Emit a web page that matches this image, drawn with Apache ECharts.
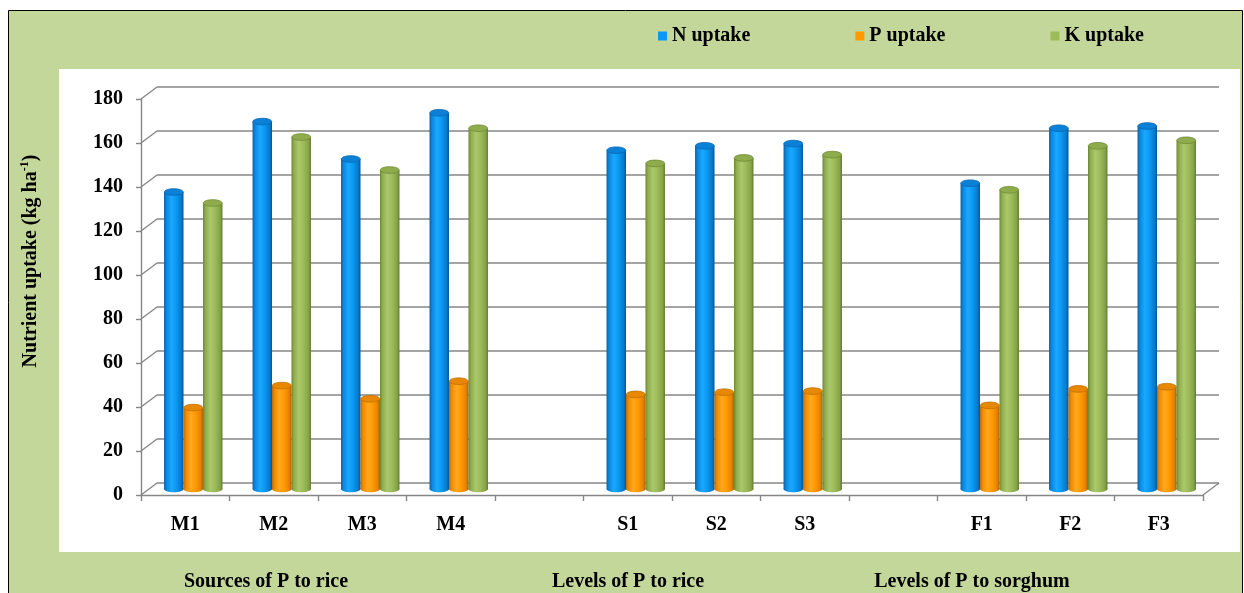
<!DOCTYPE html>
<html>
<head>
<meta charset="utf-8">
<title>Nutrient uptake</title>
<script src="https://cdn.jsdelivr.net/npm/echarts@6/dist/echarts.min.js"></script>
<style>
  html, body { margin: 0; padding: 0; background: #fff; }
  #chart { width: 1244px; height: 593px; }
</style>
</head>
<body>
<div id="chart"></div>
<script>
// Treatments (blank slots separate the three groups)
const categories = ['M1', 'M2', 'M3', 'M4', '', 'S1', 'S2', 'S3', '', 'F1', 'F2', 'F3'];
// Nutrient uptake, kg ha-1
const nUptake = [135, 167, 150, 171, null, 154, 156, 157, null, 139, 164, 165];
const pUptake = [37, 47, 41, 49, null, 43, 44, 44.5, null, 38, 45.5, 46.5];
const kUptake = [130, 160, 145, 164, null, 148, 150.5, 152, null, 136, 156, 158.5];
const yTicks = [0, 20, 40, 60, 80, 100, 120, 140, 160, 180];
const seriesNames = ['N uptake', 'P uptake', 'K uptake'];
const groupLabels = ['Sources of P to rice', 'Levels of P to rice', 'Levels of P to sorghum'];

const FONT = '"Liberation Serif", "Times New Roman", serif';
const FS = 20;
const GRID_COLOR = '#868686';
// pseudo-3D depth offsets (px)
const WALL_DX = 16, WALL_DY = -12;
const BAR_DX = 8, BAR_DY = -6;

const palettes = [
  { base: '#0a9af5', edge: ['#0b5fa8', '#0a86dd', '#1aa9ff', '#0b98f2', '#0879c8', '#05559a'], cap: '#0a80d6', capStroke: '#0a66b4' },
  { base: '#ff9900', edge: ['#bf6600', '#ef8a00', '#ffa820', '#ff9a00', '#e48200', '#b25e00'], cap: '#e88800', capStroke: '#c06e00' },
  { base: '#9bbb59', edge: ['#6b8732', '#8eac4e', '#abc86a', '#9cbb5a', '#85a347', '#5f772b'], cap: '#8eac4c', capStroke: '#6e8a36' }
];

function bodyGradient(p) {
  const s = [0, 0.12, 0.38, 0.62, 0.88, 1];
  return new echarts.graphic.LinearGradient(0, 0, 1, 0, s.map((o, i) => ({ offset: o, color: p.edge[i] })));
}

function toPairs(arr) {
  const out = [];
  arr.forEach((v, i) => { if (v !== null) out.push([i, v]); });
  return out;
}

function cylinderSeries(name, values, idx) {
  const pal = palettes[idx];
  return {
    type: 'custom',
    name: name,
    z: 5,
    itemStyle: { color: pal.base },
    encode: { x: 0, y: 1 },
    data: toPairs(values),
    renderItem: function (params, api) {
      const cat = api.value(0), val = api.value(1);
      const top = api.coord([cat, val]);
      const base = api.coord([cat, 0]);
      const band = api.size([1, 0])[0];
      const w = band * 0.22;
      const cx = top[0] + (idx - 1) * w + BAR_DX;
      const yTop = top[1] + BAR_DY;
      const yBot = base[1] + BAR_DY;
      const ry = w * 0.17;
      const grad = bodyGradient(pal);
      return {
        type: 'group',
        children: [
          { type: 'ellipse', shape: { cx: cx, cy: yBot, rx: w / 2, ry: ry }, style: { fill: grad } },
          { type: 'rect', shape: { x: cx - w / 2, y: yTop, width: w, height: yBot - yTop }, style: { fill: grad } },
          { type: 'ellipse', shape: { cx: cx, cy: yTop, rx: w / 2 - 0.3, ry: ry }, style: { fill: pal.cap, stroke: pal.capStroke, lineWidth: 0.8 } }
        ]
      };
    }
  };
}

// back wall grid lines, left wall diagonals and floor edge
const wallSeries = {
  type: 'custom',
  silent: true,
  z: 1,
  encode: { x: 0, y: 1 },
  data: yTicks.map(v => [0, v]),
  renderItem: function (params, api) {
    const v = api.value(1);
    const y = api.coord([0, v])[1];
    const x0 = params.coordSys.x;
    const x1 = x0 + params.coordSys.width;
    const st = { stroke: GRID_COLOR, lineWidth: 1.4 };
    const children = [
      { type: 'line', shape: { x1: x0, y1: y, x2: x0 + WALL_DX, y2: y + WALL_DY }, style: st },
      { type: 'line', shape: { x1: x0 + WALL_DX, y1: y + WALL_DY, x2: x1 + WALL_DX, y2: y + WALL_DY }, style: st }
    ];
    if (v === 0) {
      children.push({ type: 'line', shape: { x1: x1, y1: y, x2: x1 + WALL_DX, y2: y + WALL_DY }, style: st });
    }
    return { type: 'group', children: children };
  }
};

const chart = echarts.init(document.getElementById('chart'), null, { renderer: 'canvas' });

const boldFont = 'bold ' + FS + 'px ' + FONT;

const option = {
  animation: false,
  backgroundColor: '#ffffff',
  textStyle: { fontFamily: FONT },
  graphic: [
    { type: 'rect', z: -20, shape: { x: 8.5, y: 10.5, width: 1234, height: 590 }, style: { fill: '#c4d79b', stroke: '#000', lineWidth: 1 } },
    { type: 'rect', z: -19, shape: { x: 59, y: 69, width: 1181, height: 483 }, style: { fill: '#ffffff' } },
    {
      type: 'text', z: 10, x: 31, y: 261, rotation: Math.PI / 2,
      style: {
        text: '{a|Nutrient uptake (kg ha}{s|-1}{a|)}',
        align: 'center', verticalAlign: 'middle',
        rich: {
          a: { fontFamily: FONT, fontWeight: 'bold', fontSize: FS, lineHeight: 24, fill: '#000' },
          s: { fontFamily: FONT, fontWeight: 'bold', fontSize: 12, lineHeight: 24, verticalAlign: 'top', fill: '#000' }
        }
      }
    },
    { type: 'text', z: 10, x: 266, y: 582, style: { text: groupLabels[0], align: 'center', verticalAlign: 'middle', font: boldFont, fill: '#000' } },
    { type: 'text', z: 10, x: 628, y: 582, style: { text: groupLabels[1], align: 'center', verticalAlign: 'middle', font: boldFont, fill: '#000' } },
    { type: 'text', z: 10, x: 972, y: 582, style: { text: groupLabels[2], align: 'center', verticalAlign: 'middle', font: boldFont, fill: '#000' } }
  ],
  legend: {
    data: seriesNames,
    left: 658,
    top: 26,
    padding: 0,
    icon: 'rect',
    itemWidth: 9,
    itemHeight: 9,
    itemGap: 105,
    textStyle: { fontFamily: FONT, fontWeight: 'bold', fontSize: FS, color: '#000' }
  },
  grid: { left: 141, right: 41, top: 99, bottom: 98, containLabel: false },
  xAxis: {
    type: 'category',
    data: categories,
    boundaryGap: true,
    axisLine: { show: true, lineStyle: { color: GRID_COLOR, width: 1.4 } },
    axisTick: { show: true, length: 6, interval: 0, lineStyle: { color: GRID_COLOR, width: 1.4 } },
    axisLabel: { interval: 0, margin: 20, fontFamily: FONT, fontWeight: 'bold', fontSize: FS, color: '#000' },
    splitLine: { show: false }
  },
  yAxis: {
    type: 'value',
    min: 0,
    max: 180,
    interval: 20,
    axisLine: { show: true, lineStyle: { color: GRID_COLOR, width: 1.4 } },
    axisTick: { show: true, length: 5, lineStyle: { color: GRID_COLOR, width: 1.4 } },
    axisLabel: { margin: 18, fontFamily: FONT, fontWeight: 'bold', fontSize: FS, color: '#000' },
    splitLine: { show: false }
  },
  series: [
    wallSeries,
    cylinderSeries(seriesNames[0], nUptake, 0),
    cylinderSeries(seriesNames[1], pUptake, 1),
    cylinderSeries(seriesNames[2], kUptake, 2)
  ]
};

chart.setOption(option);
</script>
</body>
</html>
